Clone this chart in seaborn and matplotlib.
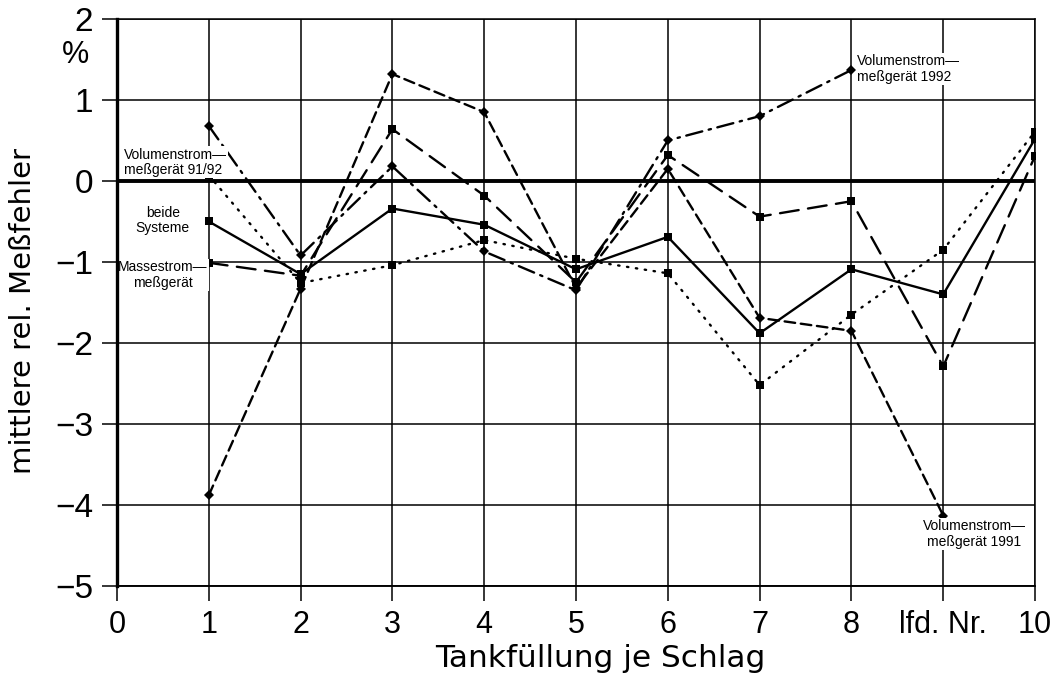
import numpy as np
import pandas as pd
import matplotlib
matplotlib.use("Agg")
import matplotlib.pyplot as plt
import seaborn as sns

# Laufende Nummer der Tankfüllung
lfd_nr = [1, 2, 3, 4, 5, 6, 7, 8, 9, 10]

# mittlere relative Messfehler in %
volumen_91_92 = [0.07, -1.26, -1.04, -0.73, -0.96, -1.14, -2.52, -1.65, -0.85, 0.61]
beide_systeme = [-0.50, -1.15, -0.34, -0.54, -1.09, -0.69, -1.88, -1.09, -1.40, 0.52]
massestrom = [-1.01, -1.17, 0.64, -0.18, -1.25, 0.32, -0.44, -0.25, -2.29, 0.31]
volumen_1992 = [0.68, -0.92, 0.18, -0.87, -1.35, 0.50, 0.80, 1.37]
volumen_1991 = [-3.88, -1.33, 1.32, 0.85, -1.32, 0.15, -1.69, -1.85, -4.13]

y_ticks = [-5, -4, -3, -2, -1, 0, 1, 2]
x_ticks = [0, 1, 2, 3, 4, 5, 6, 7, 8, 9, 10]
x_tick_labels = ["0", "1", "2", "3", "4", "5", "6", "7", "8", "lfd. Nr.", "10"]

sns.set_theme(style="white")
plt.rcParams["font.family"] = ["Liberation Sans", "DejaVu Sans"]

fig = plt.figure(figsize=(10.51, 6.73), dpi=100)
ax = fig.add_axes([0.1113, 0.1293, 0.8735, 0.8425])

grid_lw = 1.1
line_lw = 1.7

series = [
    (volumen_91_92, "s", (0, (0.6, 3.2)), 6),
    (beide_systeme, "s", "-", 6),
    (massestrom, "s", (0, (8, 4)), 6),
    (volumen_1992, "D", (0, (7, 2.8, 1, 2.8)), 5.5),
    (volumen_1991, "D", (0, (4.5, 2.4)), 5.5),
]
for values, mk, ls, ms in series:
    df = pd.DataFrame({"nr": lfd_nr[:len(values)], "fehler": values})
    sns.lineplot(data=df, x="nr", y="fehler", ax=ax, color="black",
                 linewidth=line_lw, linestyle=ls, marker=mk, markersize=ms,
                 markeredgewidth=0, errorbar=None, zorder=3,
                 dash_capstyle="round", solid_capstyle="round")

ax.set_xlim(0, 10)
ax.set_ylim(-5, 2)
ax.set_xticks(x_ticks)
ax.set_xticklabels(x_tick_labels)
ax.set_yticks(y_ticks)
ax.set_yticklabels([f"{v}".replace("-", "\u2212") for v in y_ticks])

ax.grid(True, color="black", linewidth=grid_lw)
ax.axhline(0, color="black", linewidth=2.8, zorder=2)
ax.axhline(-5, color="black", linewidth=grid_lw, zorder=2, clip_on=False)
for side in ["top", "right", "bottom"]:
    ax.spines[side].set_visible(True)
    ax.spines[side].set_color("black")
    ax.spines[side].set_linewidth(grid_lw)
ax.spines["left"].set_color("black")
ax.spines["left"].set_linewidth(2.4)
ax.spines["left"].set_zorder(5)

ax.tick_params(axis="both", direction="out", color="black", width=grid_lw,
               length=11, pad=6, labelcolor="black", bottom=True, left=True)
ax.tick_params(axis="y", labelsize=24)
ax.tick_params(axis="x", labelsize=22, pad=6)

ax.set_xlabel("Tankfüllung je Schlag", fontsize=22.5, color="black",
              family="DejaVu Sans")
ax.set_ylabel("mittlere rel. Meßfehler", fontsize=21, color="black",
              family="DejaVu Sans")
ax.xaxis.set_label_coords(0.527, -0.102)
ax.yaxis.set_label_coords(-0.087, 0.485)

# Prozentzeichen als Einheit zwischen den oberen Achsenbeschriftungen
ax.text(-0.03, 1.55, "%", transform=ax.get_yaxis_transform(), ha="right",
        va="center", fontsize=22, color="black")

box = dict(facecolor="white", edgecolor="none", pad=0.8)
lbl = dict(fontsize=10, color="black", linespacing=1.15, zorder=4, bbox=box)
ax.text(0.08, 0.23, "Volumenstrom\u2014\nmeßgerät 91/92", ha="left", va="center", **lbl)
ax.text(0.5, -0.49, "beide\nSysteme", ha="center", va="center", **lbl)
ax.text(0.5, -1.16, "Massestrom\u2014\nmeßgerät", ha="center", va="center", **lbl)
ax.text(8.06, 1.38, "Volumenstrom\u2014\nmeßgerät 1992", ha="left", va="center", **lbl)
ax.text(9.34, -4.36, "Volumenstrom\u2014\nmeßgerät 1991", ha="center", va="center", **lbl)

fig.savefig("out.png", dpi=100)
